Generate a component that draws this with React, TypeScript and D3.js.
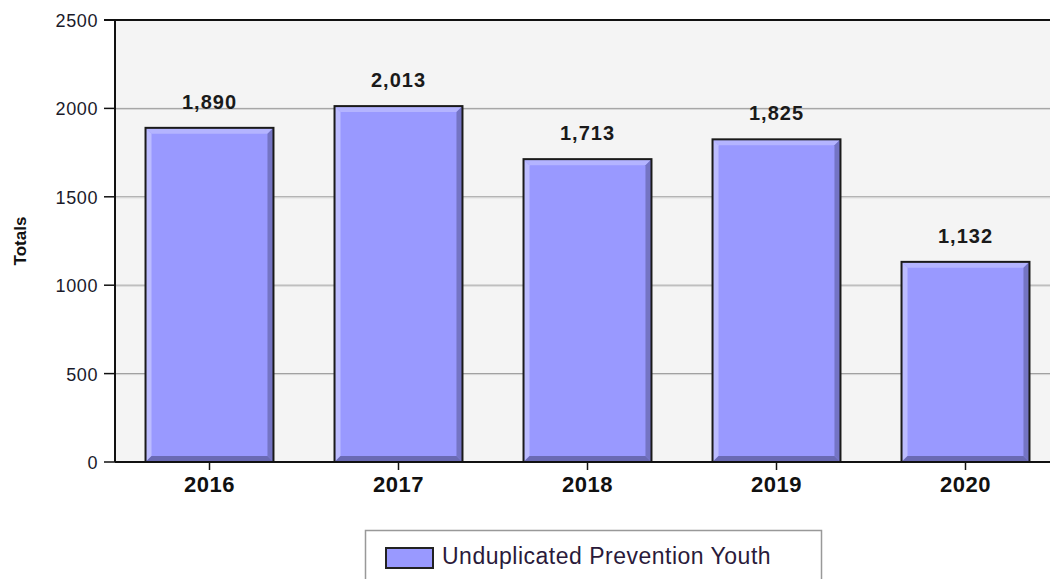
import React from "react";
import * as d3 from "d3";

const categories = ["2016", "2017", "2018", "2019", "2020"];
const values = [1890, 2013, 1713, 1825, 1132];
const yTicks = [0, 500, 1000, 1500, 2000, 2500];
const seriesName = "Unduplicated Prevention Youth";

const W = 1050, H = 579;
const left = 115, top = 20, bottom = 462, right = 1060;

export default function App() {
  const x = d3.scaleBand<string>().domain(categories).range([left, right]).paddingInner(0.323).paddingOuter(0.1615);
  const y = d3.scaleLinear().domain([0, 2500]).range([bottom, top]);
  const bw = x.bandwidth();
  const font = "'Liberation Sans', Arial, sans-serif";
  const bev = 6;
  return (
    <svg width={W} height={H} style={{ position: "absolute", left: 0, top: 0, display: "block" }}>
      <rect x={0} y={0} width={W} height={H} fill="#fff" />
      <rect x={left} y={top} width={right - left} height={bottom - top} fill="#f4f4f4" />
      {yTicks.filter(t => t > 0 && t < 2500).map(t => (
        <g key={t}>
          <line x1={left} x2={right} y1={y(t)} y2={y(t)} stroke="#999" strokeWidth={1} />
          <line x1={left} x2={right} y1={y(t) + 1} y2={y(t) + 1} stroke="#d4d4d4" strokeWidth={1} />
        </g>
      ))}
      <line x1={104} x2={right} y1={top} y2={top} stroke="#111" strokeWidth={2} />
      {yTicks.map(t => (
        <g key={"t" + t}>
          <line x1={104} x2={left} y1={y(t)} y2={y(t)} stroke="#111" strokeWidth={1.5} />
          <text x={98} y={y(t) + 7} textAnchor="end" fontFamily={font} fontSize={18} letterSpacing={0.6} fill="#1a1a2a">{t}</text>
        </g>
      ))}
      {categories.map((c, i) => {
        const x0 = x(c)!;
        const y0 = y(values[i]);
        const h = bottom - y0;
        return (
          <g key={c}>
            <rect x={x0} y={y0} width={bw} height={h} fill="#9999ff" />
            <polygon points={`${x0},${y0} ${x0 + bev},${y0 + bev} ${x0 + bev},${bottom - bev} ${x0},${bottom}`} fill="#bcbcff" />
            <polygon points={`${x0},${y0} ${x0 + bw},${y0} ${x0 + bw - bev},${y0 + bev} ${x0 + bev},${y0 + bev}`} fill="#b4b4ff" />
            <polygon points={`${x0 + bw},${y0} ${x0 + bw},${bottom} ${x0 + bw - bev},${bottom - bev} ${x0 + bw - bev},${y0 + bev}`} fill="#7474c4" />
            <polygon points={`${x0},${bottom} ${x0 + bw},${bottom} ${x0 + bw - bev},${bottom - bev} ${x0 + bev},${bottom - bev}`} fill="#6a6ab4" />
            <rect x={x0} y={y0} width={bw} height={h} fill="none" stroke="#1a1a1a" strokeWidth={2} />
            <text x={x0 + bw / 2} y={y0 - 19} textAnchor="middle" fontFamily={font} fontSize={20} fontWeight="bold" letterSpacing={1} fill="#1a1a1a">{d3.format(",")(values[i])}</text>
            <line x1={x0 + bw / 2} x2={x0 + bw / 2} y1={bottom} y2={bottom + 8} stroke="#111" strokeWidth={1.5} />
            <text x={x0 + bw / 2} y={bottom + 30} textAnchor="middle" fontFamily={font} fontSize={22} fontWeight="bold" letterSpacing={0.5} fill="#111">{c}</text>
          </g>
        );
      })}
      <line x1={left} x2={left} y1={top} y2={bottom} stroke="#111" strokeWidth={2} />
      <line x1={left} x2={right} y1={bottom} y2={bottom} stroke="#111" strokeWidth={2} />
      <text transform={`translate(26,${(top + bottom) / 2}) rotate(-90)`} textAnchor="middle" fontFamily={font} fontSize={17} fontWeight="bold" fill="#111">Totals</text>
      <rect x={365.5} y={530.5} width={456} height={60} fill="#fff" stroke="#999" strokeWidth={1.5} />
      <rect x={386} y={548} width={47} height={20} fill="#9999ff" stroke="#222" strokeWidth={2} />
      <text x={442} y={564} fontFamily={font} fontSize={23} letterSpacing={0.5} fill="#2a1a3a">{seriesName}</text>
    </svg>
  );
}
